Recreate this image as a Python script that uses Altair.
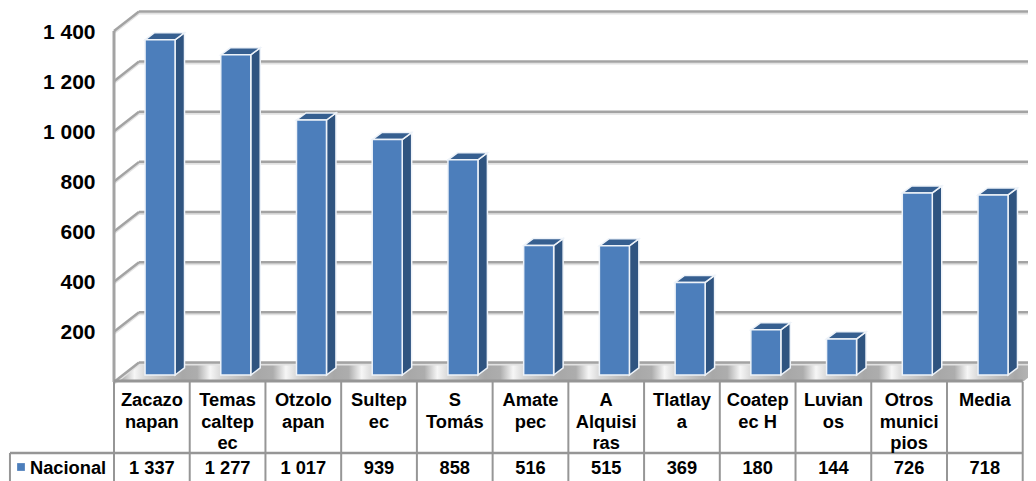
import altair as alt
import pandas as pd

# ---- values ----
categories = ["Zacazo\nnapan", "Temas\ncaltep\nec", "Otzolo\napan", "Sultep\nec", "S\nTomás",
              "Amate\npec", "A\nAlquisi\nras", "Tlatlay\na", "Coatep\nec H", "Luvian\nos",
              "Otros\nmunici\npios", "Media"]
values = [1337, 1277, 1017, 939, 858, 516, 515, 369, 180, 144, 726, 718]
series_name = "Nacional"
grid_values = [0, 200, 400, 600, 800, 1000, 1200, 1400]
axis_values = [200, 400, 600, 800, 1000, 1200, 1400]

# ---- 3D projection, in data units ----
N = len(values)
WALL_DX, WALL_DY = 0.33, 78      # depth of the chart box
BAR_W, BAR_DX, BAR_DY = 0.396, 0.125, 28   # bar width and depth
BAR_SHIFT = 0.108
TABLE_LEFT = -1.374

FONT = "Liberation Sans"
GRID = "#a3a3a3"
TABLE = "#969696"
FRONT, SIDE, TOPC = "#4c7ebb", "#2f5480", "#365f90"

x_scale = alt.Scale(domain=[0, 12], range=[106, 1014.7], nice=False, zero=False)
y_scale = alt.Scale(domain=[0, 1400], range=[374, 23], nice=False, zero=False)
y_axis = alt.Axis(
    values=axis_values, orient="left", offset=-87, domain=False, ticks=False, grid=False, title=None,
    labelPadding=0, labelFont=FONT, labelFontSize=21, labelFontWeight="bold", labelColor="#000000",
    labelOffset=1, labelExpr="replace(format(datum.value, ','), ',', ' ')")
X = lambda f: alt.X(f, type="quantitative", scale=x_scale, axis=None)
Y = lambda f: alt.Y(f, type="quantitative", scale=y_scale, axis=y_axis)
Y2 = lambda f: alt.Y2(f)


def para(left, right, dx, low, dy, key):
    """Flat parallelogram receding in depth, as four area vertices."""
    return [
        dict(k=key, x=left, yb=low, ye=low),
        dict(k=key, x=left + dx, yb=low + dy, ye=low),
        dict(k=key, x=right, yb=low + dy, ye=low),
        dict(k=key, x=right + dx, yb=low + dy, ye=low + dy),
    ]


# floor: glossy band repeated once per category
span = N + WALL_DX
stops = [alt.GradientStop(color="#c0c0c0", offset=0)]
for i in range(N):
    for p, c in [(0.10, "#adadad"), (0.27, "#f6f6f6"), (0.42, "#d6d6d6"), (0.9, "#a8a8a8")]:
        stops.append(alt.GradientStop(color=c, offset=(i + p) / span))
stops.append(alt.GradientStop(color="#c4c4c4", offset=1))
floor_df = pd.DataFrame(para(0, N, WALL_DX, 0, WALL_DY, 0))
floor = alt.Chart(floor_df).mark_area(
    color=alt.Gradient(gradient="linear", x1=0, y1=0, x2=1, y2=0, stops=stops)
).encode(x=X("x"), y=Y("yb"), y2=Y2("ye"))

# walls
grid_df = pd.DataFrame({"v": grid_values})
grid_df["back"] = grid_df.v + WALL_DY
grid_df["x0"] = WALL_DX
grid_df["x1"] = N + WALL_DX
grid_shadow = alt.Chart(grid_df).mark_rule(stroke="#e2e2e2", strokeWidth=2, yOffset=2).encode(
    x=X("x0"), x2=alt.X2("x1"), y=Y("back"))
grid = alt.Chart(grid_df).mark_rule(stroke=GRID, strokeWidth=2.5).encode(
    x=X("x0"), x2=alt.X2("x1"), y=Y("back"))

slant_rows = []
for v in grid_values:
    slant_rows.append(dict(v=v, x=0, y=v, o=0))
    slant_rows.append(dict(v=v, x=WALL_DX, y=v + WALL_DY, o=1))
slant_df = pd.DataFrame(slant_rows)
slant_shadow = alt.Chart(slant_df).mark_line(stroke="#e2e2e2", strokeWidth=2, yOffset=2).encode(
    x=X("x"), y=Y("y"), detail="v:N", order="o:O")
slant = alt.Chart(slant_df).mark_line(stroke=GRID, strokeWidth=2.5).encode(
    x=X("x"), y=Y("y"), detail="v:N", order="o:O")

wall_df = pd.DataFrame({"x": [0], "a": [0], "b": [1400]})
left_wall = alt.Chart(wall_df).mark_rule(stroke=GRID, strokeWidth=3).encode(
    x=X("x"), y=Y("a"), y2=alt.Y2("b"))

# bars
bars = pd.DataFrame({"i": range(N), "cat": categories, "val": values})
bars["left"] = bars.i + 0.5 + BAR_SHIFT - BAR_W / 2
bars["right"] = bars.left + BAR_W
bars["base"] = BAR_DY
bars["top"] = bars.val + BAR_DY

side_rows, top_rows = [], []
for r in bars.itertuples():
    side_rows.append(dict(k=r.i, x=r.right, yb=r.top, ye=r.base))
    side_rows.append(dict(k=r.i, x=r.right + BAR_DX, yb=r.top + BAR_DY, ye=r.base + BAR_DY))
    top_rows += para(r.left, r.right, BAR_DX, r.top, BAR_DY, r.i)
side_df, top_df = pd.DataFrame(side_rows), pd.DataFrame(top_rows)

HALO = "#eef3f9"
side = alt.Chart(side_df).mark_area(color=SIDE, stroke=HALO, strokeWidth=1.5).encode(
    x=X("x"), y=Y("yb"), y2=Y2("ye"), detail="k:N")
top = alt.Chart(top_df).mark_area(color=TOPC, stroke=HALO, strokeWidth=1.5).encode(
    x=X("x"), y=Y("yb"), y2=Y2("ye"), detail="k:N")
front = alt.Chart(bars).mark_rect(color=FRONT, stroke=HALO, strokeWidth=1.5).encode(
    x=X("left"), x2=alt.X2("right"), y=Y("base"), y2=alt.Y2("top"))

# data table
ROW1, ROW2, ROW3 = 374, 445, 490
edges = pd.DataFrame({"x": list(range(N + 1))})
vlines = alt.Chart(edges).mark_rule(stroke=TABLE, strokeWidth=2).encode(
    x=X("x"), y=alt.value(ROW1), y2=alt.value(ROW3))
hrows = pd.DataFrame({"a": [0, TABLE_LEFT], "b": [N, N]})
top_line = alt.Chart(hrows.iloc[[0]]).mark_rule(stroke=TABLE, strokeWidth=3).encode(
    x=X("a"), x2=alt.X2("b"), y=alt.value(ROW1 - 1))
mid_line = alt.Chart(hrows.iloc[[1]]).mark_rule(stroke=TABLE, strokeWidth=2.5).encode(
    x=X("a"), x2=alt.X2("b"), y=alt.value(ROW2))
left_cell = alt.Chart(hrows.iloc[[1]]).mark_rule(stroke=TABLE, strokeWidth=2).encode(
    x=X("a"), y=alt.value(ROW2), y2=alt.value(ROW3))

bars["mid"] = bars.i + 0.5
bars["label"] = [f"{v:,}".replace(",", " ") for v in values]
header = alt.Chart(bars).mark_text(
    font=FONT, fontSize=18.3, fontWeight="bold", color="#000000", baseline="top", align="center",
    lineBreak="\n", lineHeight=21.5,
).encode(x=X("mid"), y=alt.value(384), text="cat:N")
row = alt.Chart(bars).mark_text(
    font=FONT, fontSize=18.3, fontWeight="bold", color="#000000", baseline="middle", align="center",
).encode(x=X("mid"), y=alt.value(461), text="label:N")

name_df = pd.DataFrame({"name": [series_name]})
swatch = alt.Chart(name_df).mark_square(size=60, color=FRONT, opacity=1).encode(
    x=alt.value(13), y=alt.value(459))
name = alt.Chart(name_df).mark_text(
    font=FONT, fontSize=18.3, fontWeight="bold", color="#000000", baseline="middle", align="left",
).encode(x=alt.value(22), y=alt.value(461), text="name:N")

chart = alt.layer(
    floor, grid_shadow, grid, slant_shadow, slant, left_wall,
    side, top, front,
    vlines, top_line, mid_line, left_cell, header, row, swatch, name,
).properties(width=1020, height=473, padding=0, background="#ffffff",
             autosize=alt.AutoSizeParams(type="none")
).configure_view(stroke=None)

chart.save("out.html", embed_options={"renderer": "svg", "actions": False})
